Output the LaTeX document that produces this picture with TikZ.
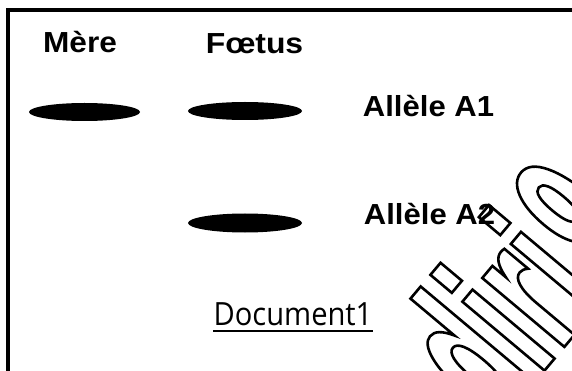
\documentclass[tikz,border=0pt]{standalone}
\usepackage{fontspec}
\setmainfont{Liberation Sans}
\newfontfamily\wmfont{DejaVu Sans}[FakeStretch=0.46]
\newfontfamily\docfont{Open Sans}
\usetikzlibrary{shapes.geometric}
\newcommand\wmoutline[1]{\special{pdf:literal direct 1 Tr 2.6 w}#1\special{pdf:literal direct 0 Tr 0.4 w}}
\tikzset{
  lab/.style={font=\fontsize{29}{29}\selectfont\bfseries, inner sep=0pt, anchor=base},
  band/.style={ellipse, fill=black, inner sep=0pt, minimum width=114pt, minimum height=18pt},
  doclab/.style={font=\docfont\fontsize{32}{32}\selectfont, inner sep=0pt, anchor=base},
  wmark/.style={rotate=50, anchor=base west, inner sep=0pt, font=\wmfont\bfseries\fontsize{196}{196}\selectfont}
}
\begin{document}
\begin{tikzpicture}[x=1pt,y=-1pt]
\useasboundingbox (0,0) rectangle (572,371);
\clip (0,0) rectangle (572,371);
\fill[white] (0,0) rectangle (572,371);
% frame
\draw[line width=3.6pt] (7.8,10) rectangle (620,420);
% titles
\node[lab] (mere) at (80,53) {\scalebox{1.09}[1]{Mère}};
\node[lab] (foetus) at (254.5,54) {\scalebox{1.1}[1]{Fœtus}};
\node[lab] (a1) at (428.5,116.5) {\scalebox{1.07}[1]{Allèle A1}};
\node[lab] (a2) at (429.5,224.5) {\scalebox{1.07}[1]{Allèle A2}};
% bands
\node[band, minimum width=111pt] (bm) at (84.5,112) {};
\node[band] (bf1) at (245,111) {};
\node[band, minimum height=19pt] (bf2) at (245,223) {};
% document label
\node[doclab] (doc) at (293,325) {\scalebox{0.91}[1]{Document1}};
\draw[line width=1.8pt] ([yshift=-6pt]doc.base west) -- ([yshift=-6pt]doc.base east);
% watermark
\node[wmark] (wm) at (498,426) {\wmoutline{diri\kern8pt 9}};
\end{tikzpicture}
\end{document}
